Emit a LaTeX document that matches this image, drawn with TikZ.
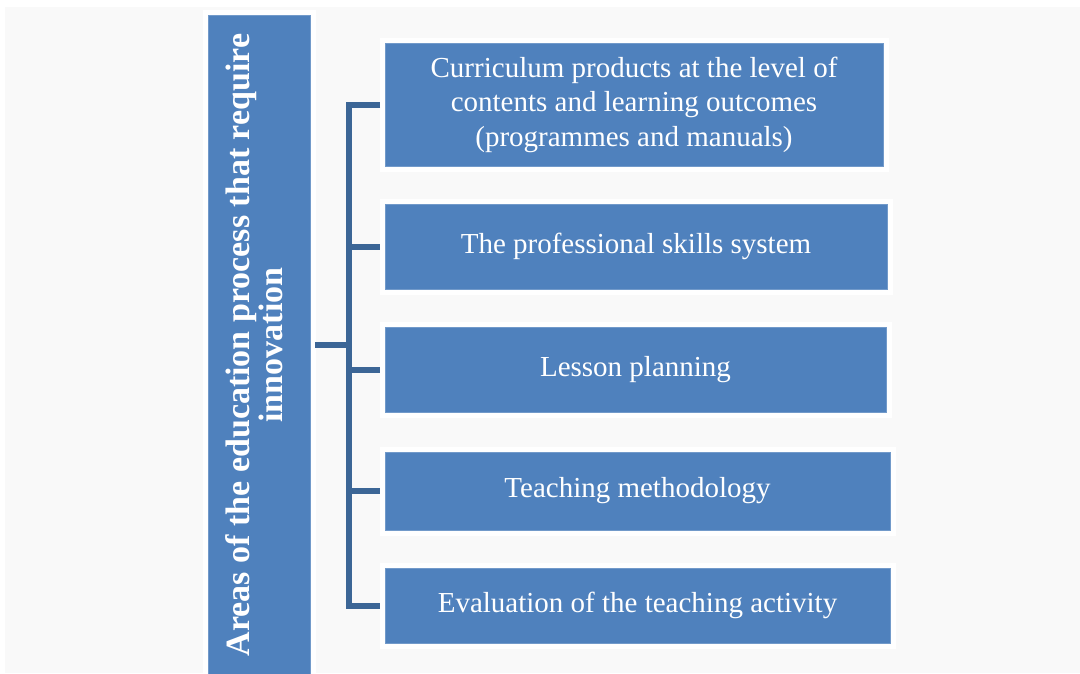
\documentclass[tikz,border=0pt]{standalone}
\usepackage{graphicx}
\usepackage{fontspec}
\setmainfont{Liberation Serif}

\definecolor{boxblue}{HTML}{4F81BD}
\definecolor{bracketblue}{HTML}{3C6696}
\definecolor{paper}{HTML}{F9F9F9}

\tikzset{
  area/.style={fill=boxblue, draw=boxblue!80!white, line width=1pt,
    preaction={draw=white, line width=11pt},
    text=white, inner sep=0pt, outer sep=0pt, align=center,
    font=\fontsize{29}{34.5}\selectfont},
  bracket/.style={draw=bracketblue, line width=6pt},
}

\begin{document}
\begin{tikzpicture}[x=1pt, y=-1pt]
\useasboundingbox (0,0) rectangle (1080,673);

% Background
\fill[paper] (5,7) rectangle (1080,673);

% Left box
\node[area, minimum width=102pt, minimum height=660pt, font=\bfseries\fontsize{34}{32}\selectfont] (areas) at (259,345)
  {\rotatebox{90}{\begin{tabular}{@{}c@{}}Areas of the education process that require\\innovation\end{tabular}}};

% Right boxes
\node[area, minimum width=498pt, minimum height=123pt] (curriculum) at (634,104.5)
  {Curriculum products at the level of\\contents and learning outcomes\\(programmes and manuals)};
\node[area, minimum width=502pt, minimum height=85pt] (skills) at (636,246.5) {The professional skills system};
\node[area, minimum width=501pt, minimum height=85pt] (planning) at (635.5,369.5) {Lesson planning};
\node[area, minimum width=505pt, minimum height=78pt] (methodology) at (637.5,491) {Teaching methodology};
\node[area, minimum width=505pt, minimum height=75pt] (evaluation) at (637.5,605.5) {Evaluation of the teaching activity};

% Bracket
\coordinate (hub) at (348.5,344);
\draw[bracket, shorten <=5pt] (areas.east) -- (areas.east -| hub);
\draw[bracket, shorten <=5pt, shorten >=5pt] (curriculum.west) -- (curriculum.west -| hub) -- (evaluation.west -| hub) -- (evaluation.west);
\foreach \n in {skills, planning, methodology}
{
	\draw[bracket, shorten >=5pt] (\n.west -| hub) -- (\n.west);
}
\end{tikzpicture}
\end{document}
